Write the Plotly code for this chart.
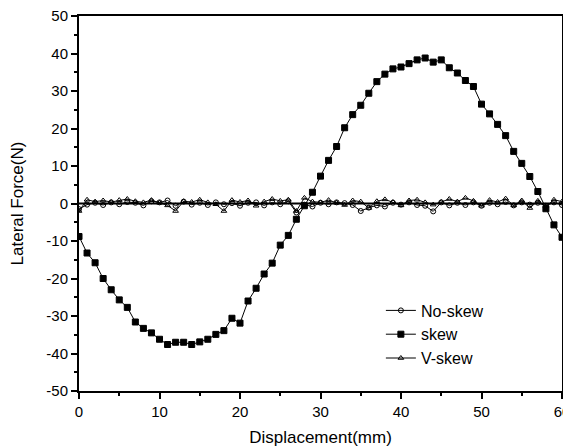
import plotly.graph_objs as go

# Displacement samples (mm)
displacement = list(range(61))

# Lateral force readings (N)
no_skew = [-1.5, -0.3, 0.2, -0.4, 0.3, -0.2, 0.4, 0.2, -0.5, 0.6, 0.3, 0.8, -0.6, 0.5, -0.3, 0.2,
           -0.4, 0.3, -0.2, 0.1, -0.6, 0.2, 0.3, -0.5, 0.3, -0.2, 0.6, -2.4, -0.3, -0.8, 0.2, -0.2,
           0.3, 0.1, -0.4, -2.0, -1.1, -0.5, -0.8, 0.2, -0.3, 0.3, -0.4, -0.6, -2.1, 0.3, -0.5, 0.2,
           -0.4, 0.3, -0.6, 0.2, -0.2, 0.4, -0.5, 0.3, -0.3, 0.2, -0.6, 0.3, -0.4]

skew = [-8.8, -13.2, -15.8, -20.0, -23.0, -25.7, -27.7, -31.6, -33.3, -34.5, -36.2, -37.6, -37.0,
        -37.0, -37.6, -36.9, -36.2, -34.9, -33.9, -30.6, -31.9, -26.0, -22.6, -18.8, -15.9, -11.1,
        -8.5, -4.2, -0.6, 3.0, 7.3, 11.5, 15.2, 20.2, 23.7, 26.2, 29.4, 32.5, 34.5, 35.9, 36.4,
        37.3, 38.3, 38.8, 37.7, 38.3, 36.2, 34.8, 32.8, 31.2, 26.5, 23.9, 21.1, 18.1, 13.9, 10.7,
        7.2, 3.2, -1.4, -5.7, -9.0]

v_skew = [-2.0, 1.0, 0.5, 0.8, 0.4, 0.9, 1.2, 0.6, 0.3, 0.9, 0.2, -0.5, -2.0, 0.6, 0.4, 1.0, 0.3,
          -0.2, -2.0, 0.9, 0.4, 0.8, -0.6, 0.5, 1.2, 0.7, 1.0, -2.0, 1.5, 0.5, 0.3, 0.9, 0.2, -0.4,
          0.8, 0.5, -1.2, 0.6, 1.1, 0.4, -0.5, 0.8, 1.0, 0.3, -0.3, 0.4, 1.2, 0.5, 1.5, 0.7, -0.6,
          0.9, 0.4, 1.3, -0.5, 0.8, -1.2, 0.7, -0.8, 1.0, 0.5]

# Tick labels (plain hyphen minus like the original)
x_ticks = [0, 10, 20, 30, 40, 50, 60]
y_ticks = [-50, -40, -30, -20, -10, 0, 10, 20, 30, 40, 50]
y_tick_text = [str(v) for v in y_ticks]

series = [
    ("No-skew", no_skew, "circle-open"),
    ("skew", skew, "square"),
    ("V-skew", v_skew, "triangle-up-open"),
]

fig = go.Figure()

for name, values, symbol in series:
    fig.add_trace(go.Scatter(
        x=displacement,
        y=values,
        mode='lines+markers',
        name=name,
        line=dict(color='black', width=1),
        marker=dict(symbol=symbol, size=6 if symbol == "square" else 5,
                    color='black', line=dict(color='black', width=1)),
    ))

axis_style = dict(
    showline=True, linecolor='black', linewidth=2, mirror=True,
    ticks='outside', ticklen=6, tickwidth=1.5, tickcolor='black',
    showgrid=False, zeroline=False, automargin=False, ticklabeloverflow='allow',
    tickfont=dict(family='Liberation Sans, Arial', size=15, color='black'),
)

# page body adds an 8px offset, so the figure is sized a bit smaller
fig.update_layout(
    width=563, height=440,
    margin=dict(l=71, r=9, t=8, b=57),
    paper_bgcolor='white', plot_bgcolor='white',
    font=dict(family='Liberation Sans, Arial', color='black'),
    xaxis=dict(range=[0, 60], tickmode='array', tickvals=x_ticks,
               minor=dict(dtick=5, ticks='outside', ticklen=3, tickcolor='black'),
               title=dict(text='Displacement(mm)', font=dict(size=17), standoff=12),
               **axis_style),
    yaxis=dict(range=[-50, 50], tickmode='array', tickvals=y_ticks, ticktext=y_tick_text,
               minor=dict(dtick=5, ticks='outside', ticklen=3, tickcolor='black'),
               title=dict(text='Lateral Force(N)', font=dict(size=17), standoff=24),
               **axis_style),
    legend=dict(x=0.625, y=0.26, xanchor='left', yanchor='top',
                bgcolor='rgba(0,0,0,0)', font=dict(size=16),
                tracegroupgap=0, itemwidth=30),
    showlegend=True,
)

# Baseline at zero as drawn in the original plot
fig.add_shape(type='line', xref='x', yref='y', x0=0, x1=60, y0=0, y1=0,
              line=dict(color='black', width=2), layer='below')

fig.write_html("out.html")
